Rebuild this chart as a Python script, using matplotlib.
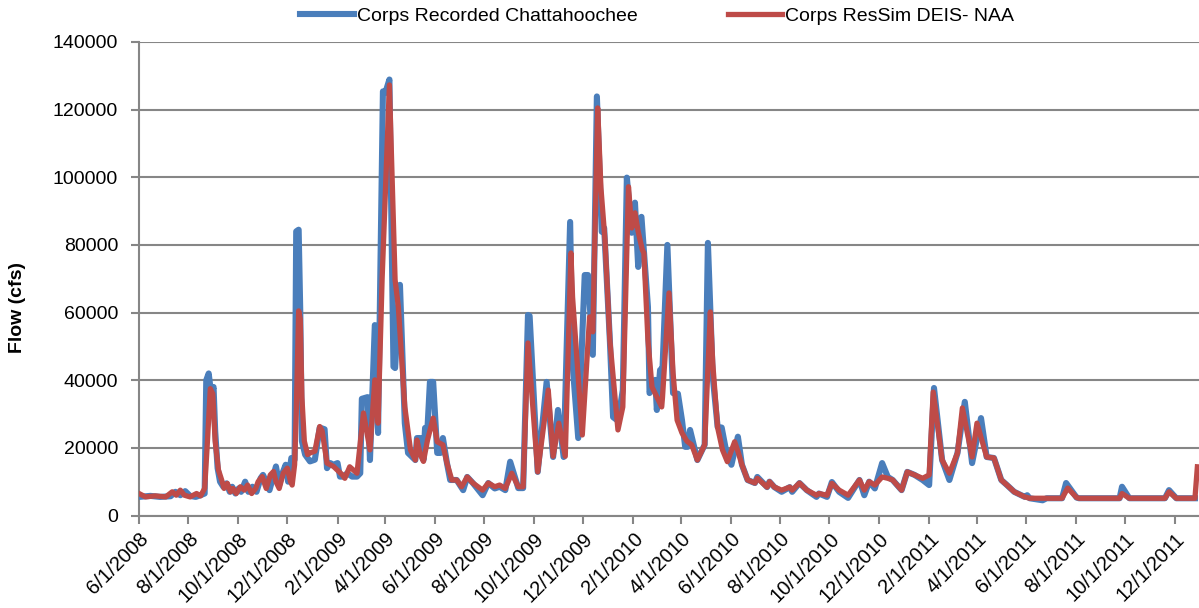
import numpy as np
import pandas as pd
import matplotlib
matplotlib.use('Agg')
import matplotlib.pyplot as plt
import matplotlib.dates as mdates
from matplotlib.ticker import FuncFormatter, MultipleLocator

start = pd.Timestamp('2008-06-01')
end = pd.Timestamp('2011-12-31')

# recorded flow, (day since 6/1/2008, cfs)
rec_day = [0, 14, 26, 39, 45, 51, 57, 63, 70, 76, 81, 83, 86, 89, 92, 94, 97, 100, 104, 108,
           112, 115, 119, 123, 126, 131, 135, 140, 145, 150, 153, 157, 161, 165, 169, 173, 177,
           181, 184, 188, 192, 194, 197, 199, 201, 205, 211, 217, 223, 229, 232, 236, 240, 245,
           248, 252, 257, 263, 269, 273, 275, 282, 285, 291, 295, 301, 304, 309, 314, 316, 322,
           328, 332, 341, 343, 347, 351, 353, 356, 359, 363, 368, 372, 375, 380, 384, 392, 400,
           405, 412, 424, 431, 439, 445, 452, 458, 463, 468, 474, 480, 482, 492, 503, 511, 517,
           524, 532, 535, 542, 550, 554, 560, 565, 571, 574, 581, 585, 591, 597, 602, 608, 612,
           616, 620, 628, 630, 637, 639, 643, 646, 652, 659, 665, 670, 674, 677, 680, 689, 698,
           702, 708, 714, 719, 725, 731, 739, 744, 751, 760, 763, 775, 778, 784, 793, 803, 806,
           815, 824, 836, 839, 849, 855, 864, 875, 889, 895, 901, 908, 917, 924, 930, 941, 948,
           957, 967, 975, 981, 991, 1000, 1010, 1019, 1028, 1039, 1046, 1055, 1064, 1071, 1080,
           1093, 1096, 1099, 1115, 1120, 1139, 1144, 1157, 1160, 1210, 1213, 1222, 1266, 1271,
           1280, 1303]
rec_flow = [5500, 5800, 5500, 5700, 7000, 6000, 7200, 5800, 5500, 6000, 6500, 40000, 42000, 36000,
            38000, 25000, 14000, 10000, 8500, 9500, 7000, 8500, 6500, 8000, 7000, 10000, 7000, 8500,
            7000, 11000, 12000, 10000, 7500, 11000, 14500, 9000, 12500, 15000, 10000, 17000, 16500,
            84000, 84500, 60000, 22000, 18000, 16000, 16500, 26000, 25500, 14000, 15500, 15000,
            15500, 11500, 11500, 12500, 11500, 11500, 12500, 34500, 35000, 16400, 56300, 24400,
            125400, 125000, 128900, 44000, 43600, 68200, 27300, 18500, 16400, 22900, 22900, 16400,
            25900, 25900, 39500, 39500, 18500, 18500, 22900, 15500, 10500, 10500, 7500, 11400, 9600,
            6000, 9600, 8000, 8500, 7500, 15900, 12000, 8100, 8100, 59300, 59000, 12900, 39500,
            17300, 31200, 17300, 86800, 45000, 22900, 71100, 71100, 47500, 123900, 83900, 85000,
            51900, 29100, 28000, 37100, 99900, 83600, 92500, 73500, 88300, 61700, 36200, 40100,
            31200, 43000, 43600, 80000, 36200, 36000, 28200, 20300, 20300, 25300, 16400, 20900,
            80600, 41000, 26200, 26000, 18500, 15000, 23300, 15000, 10500, 9600, 11400, 8400, 10000,
            8400, 7000, 8400, 7000, 9600, 7500, 5500, 6500, 5500, 9900, 7000, 5200, 10500, 6000,
            10000, 8000, 15500, 11400, 10500, 7500, 12900, 12000, 10500, 9000, 37700, 16400, 10500,
            18500, 33600, 15500, 28800, 17300, 17000, 10500, 9000, 7000, 5500, 6000, 5100, 4500,
            5100, 5100, 9600, 5300, 5100, 5100, 8500, 5100, 5100, 7500, 5100, 5100]

# ResSim simulated flow
sim_day = [0, 8, 20, 33, 41, 46, 51, 56, 63, 71, 76, 81, 84, 88, 91, 94, 98, 102, 105, 109, 113,
           116, 120, 125, 130, 134, 139, 144, 147, 152, 157, 162, 166, 169, 173, 178, 183, 187,
           189, 192, 194, 197, 199, 201, 204, 208, 211, 217, 223, 226, 232, 240, 251, 254, 260,
           269, 277, 285, 291, 295, 300, 309, 316, 320, 328, 335, 341, 343, 347, 351, 356, 363,
           368, 375, 380, 386, 392, 398, 405, 412, 424, 431, 439, 445, 452, 460, 468, 474, 480,
           492, 505, 511, 518, 526, 533, 535, 547, 556, 560, 566, 570, 575, 581, 591, 597, 604,
           608, 612, 616, 621, 623, 628, 633, 645, 646, 654, 659, 664, 670, 676, 682, 689, 698,
           705, 708, 714, 720, 726, 735, 739, 744, 751, 760, 763, 775, 778, 784, 793, 803, 806,
           815, 824, 836, 839, 849, 855, 864, 875, 889, 895, 901, 908, 917, 924, 930, 941, 948,
           957, 967, 975, 980, 991, 1000, 1010, 1016, 1028, 1034, 1046, 1055, 1064, 1071, 1080,
           1093, 1099, 1139, 1146, 1157, 1160, 1210, 1213, 1222, 1266, 1271, 1280, 1303, 1306]
sim_flow = [6500, 5500, 5800, 5500, 7000, 6000, 7500, 6000, 5500, 6500, 5800, 8000, 20000, 37500,
            36000, 22000, 13500, 10500, 8000, 9500, 7000, 8000, 6500, 8500, 7500, 9000, 6500, 8000,
            10000, 11500, 8000, 12000, 13000, 10000, 8000, 12500, 14000, 10000, 9000, 15000, 30000,
            60500, 58000, 35000, 22000, 18000, 18500, 19000, 26300, 25000, 15500, 14500, 12000,
            11000, 14400, 12500, 30300, 19400, 40100, 27300, 70000, 127300, 69700, 61700, 32100,
            19400, 16400, 22300, 18000, 16000, 22300, 28800, 21800, 20900, 15500, 10500, 10500,
            8500, 11400, 9600, 7500, 9600, 8500, 9000, 8000, 12500, 8500, 8500, 51000, 12900, 37100,
            17500, 27300, 17500, 77600, 64600, 23800, 58700, 54300, 120500, 96900, 81500, 51900,
            25300, 32100, 97200, 85000, 89500, 83900, 78600, 77600, 51900, 38000, 32100, 35000,
            65800, 42100, 28200, 24400, 22000, 20900, 16400, 20900, 60200, 45000, 26000, 19400,
            15900, 21800, 19000, 15000, 10500, 9600, 11000, 8400, 10000, 8400, 7500, 8400, 7500,
            9600, 7500, 6000, 6500, 6000, 9500, 7500, 6000, 10500, 7500, 10000, 9000, 11400, 11000,
            10500, 7500, 12900, 12000, 11000, 12000, 36500, 16400, 12500, 18500, 31800, 17300,
            27300, 17300, 17000, 10500, 9000, 7000, 5500, 5100, 5100, 8100, 5300, 5100, 5100, 6500,
            5100, 5100, 7000, 5100, 5100, 14400]

rec_dates = start + pd.to_timedelta(rec_day, unit='D')
sim_dates = start + pd.to_timedelta(sim_day, unit='D')

font = ['Liberation Sans', 'DejaVu Sans']
grey = '#868686'

fig = plt.figure(figsize=(11.99, 6.08), dpi=100)
ax = fig.add_axes([139/1199, 1-515.5/608, 1-139/1199, (515.5-42)/608])

ax.plot(rec_dates, rec_flow, color='#4A7EBB', lw=4.4, solid_joinstyle='round',
        label='Corps Recorded Chattahoochee', zorder=3)
ax.plot(sim_dates, sim_flow, color='#BE4B48', lw=3.8, solid_joinstyle='round',
        label='Corps ResSim DEIS- NAA', zorder=4)

ax.set_xlim(start, end)
ax.set_ylim(0, 140000)
ax.yaxis.set_major_locator(MultipleLocator(20000))
ax.yaxis.grid(True, color=grey, lw=1.5)
ax.set_axisbelow(True)
for s in ['top', 'right']:
    ax.spines[s].set_visible(False)
for s in ['left', 'bottom']:
    ax.spines[s].set_color(grey)
    ax.spines[s].set_linewidth(1.5)

ax.xaxis.set_major_locator(mdates.MonthLocator(bymonth=[2, 4, 6, 8, 10, 12]))
ax.xaxis.set_major_formatter(FuncFormatter(
    lambda v, p: '{d.month}/{d.day}/{d.year}'.format(d=mdates.num2date(v))))
ax.tick_params(axis='both', colors=grey, width=1.5, length=6, direction='out')
ax.tick_params(axis='x', labelcolor='black', pad=4)
ax.tick_params(axis='y', labelcolor='black', pad=9)
for lab in ax.get_xticklabels():
    lab.set_rotation(45)
    lab.set_ha('right')
    lab.set_va('top')
    lab.set_rotation_mode('anchor')
    lab.set_family(font)
    lab.set_fontsize(14.5)
for lab in ax.get_yticklabels():
    lab.set_family(font)
    lab.set_fontsize(14)

ax.set_ylabel('Flow (cfs)', family=font, fontsize=14, fontweight='bold')
ax.yaxis.set_label_coords(-(139-26)/1060, 0.44)

fig.legend(loc='center', bbox_to_anchor=(657/1199, 1-16/608), ncol=2, frameon=False,
           prop={'family': font, 'size': 14}, handlelength=2.8, handletextpad=0.15,
           columnspacing=4.6)

fig.savefig('out.png', dpi=100)
